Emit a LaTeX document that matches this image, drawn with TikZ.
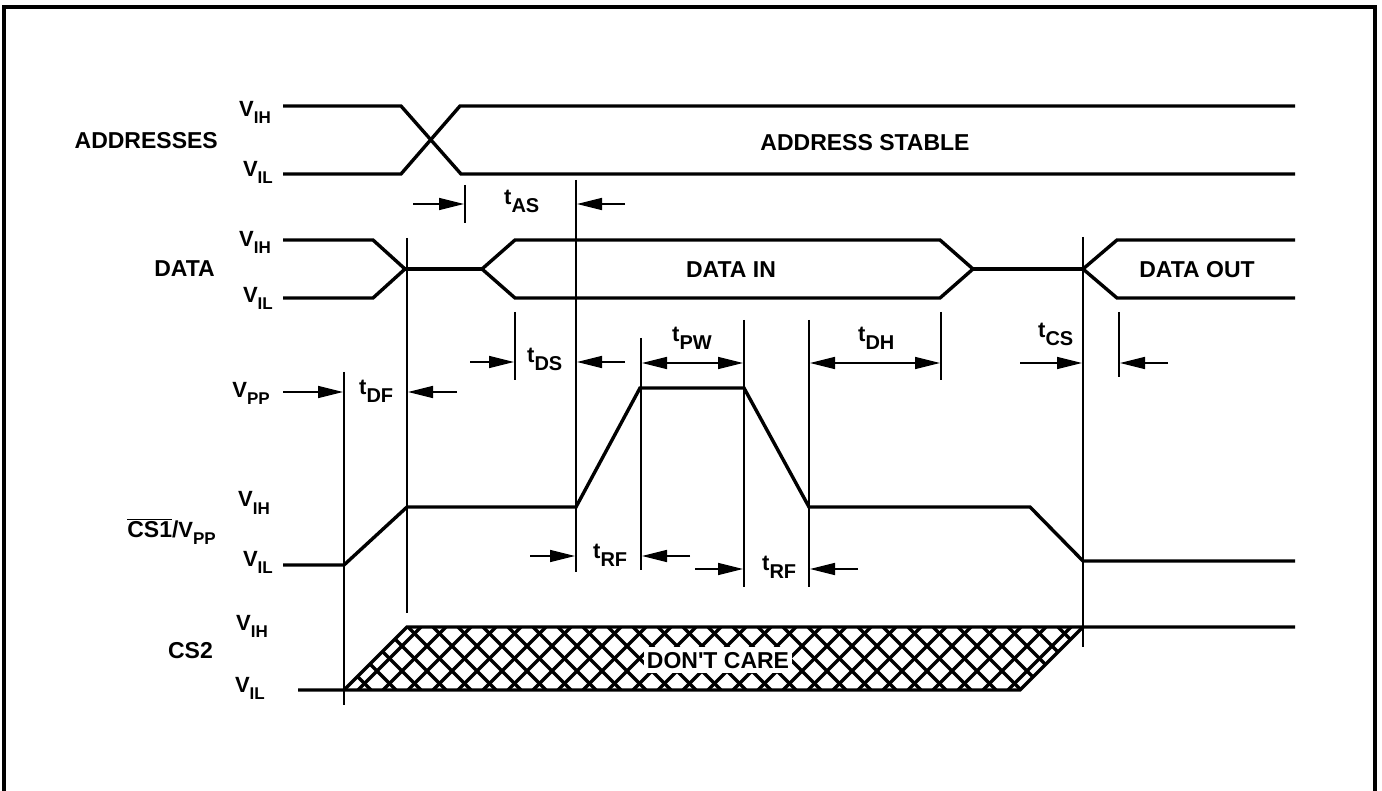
\documentclass[tikz,border=0pt]{standalone}
\usepackage{fontspec}
\setmainfont{Liberation Sans}
\usetikzlibrary{arrows.meta}
\newcommand{\lv}[2]{{\fontsize{22}{22}\selectfont #1}{\fontsize{17}{17}\selectfont\raisebox{-7pt}{#2}}}
\newcommand{\tsub}[1]{{\fontsize{22}{22}\selectfont t}{\fontsize{20}{20}\selectfont\raisebox{-8pt}{#1}}}
\begin{document}
\begin{tikzpicture}[x=1pt,y=-1pt,
  font=\bfseries\fontsize{23}{27}\selectfont,
  sig/.style={line width=3.4pt},
  guide/.style={line width=1.6pt},
  dimr/.style={line width=1.6pt,-{Triangle[length=25pt,width=12pt]}},
  dimd/.style={line width=1.6pt,{Triangle[length=25pt,width=12pt]}-{Triangle[length=25pt,width=12pt]}},
  lbl/.style={inner sep=0pt},
  hatch/.style={line width=3.3pt}]
\useasboundingbox (0,0) rectangle (1382,791);
% frame
\draw[line width=4pt] (4,800) -- (4,7) -- (1375,7) -- (1375,800);

% ---------- left labels ----------
\node[lbl,anchor=base east] (aih) at (271,117) {\lv{V}{IH}};
\node[lbl,anchor=base east] (ail) at (273,177) {\lv{V}{IL}};
\node[lbl,anchor=base east] (addr) at (218,149) {ADDRESSES};
\node[lbl,anchor=base east] (dih) at (271,247) {\lv{V}{IH}};
\node[lbl,anchor=base east] (dil) at (273,303) {\lv{V}{IL}};
\node[lbl,anchor=base east] (data) at (215,277) {DATA};
\node[lbl,anchor=base east] (vpp) at (270,398) {\lv{V}{PP}};
\node[lbl,anchor=base east] (cih) at (270,507) {\lv{V}{IH}};
\node[lbl,anchor=base east] (cs1) at (216,537) {$\overline{\mbox{CS1}}$/\lv{V}{PP}};
\node[lbl,anchor=base east] (cil) at (273,566) {\lv{V}{IL}};
\node[lbl,anchor=base east] (sih) at (268,630) {\lv{V}{IH}};
\node[lbl,anchor=base east] (cs2) at (213,658) {CS2};
\node[lbl,anchor=base east] (sil) at (265,692) {\lv{V}{IL}};

% ---------- ADDRESSES ----------
\draw[sig] (283,106) -- (401,106) -- (461,174) -- (1295,174);
\draw[sig] (283,174) -- (401,174) -- (460,106) -- (1295,106);
\node[lbl,anchor=base] (astab) at (865,151) {ADDRESS STABLE};

% ---------- DATA ----------
\draw[sig] (283,240) -- (373,240) -- (405,269) -- (373,298) -- (283,298);
\draw[sig] (405,269) -- (482,269);
\draw[sig] (515,240) -- (940,240) -- (973,269) -- (940,298) -- (515,298) -- (482,269) -- cycle;
\draw[sig] (973,269) -- (1083,269);
\draw[sig] (1295,240) -- (1117,240) -- (1083,269) -- (1117,298) -- (1295,298);
\node[lbl,anchor=base] (din) at (731,278) {DATA IN};
\node[lbl,anchor=base] (dout) at (1197,278) {DATA OUT};

% ---------- CS1/VPP ----------
\draw[sig] (283,565) -- (344,565) -- (407,507) -- (576,507) -- (640,388) -- (744,388)
  -- (809,507) -- (1030,507) -- (1083,561) -- (1295,561);

% ---------- CS2 ----------
\begin{scope}
  \clip (344,690) -- (407,627) -- (1083,627) -- (1020,690) -- cycle;
  \foreach \a in {258,283,...,1108} {
    \draw[hatch] (\a,690) -- (\a+63,627);
    \draw[hatch] (\a,627) -- (\a+63,690);
  }
\end{scope}
\draw[sig] (298,690) -- (1020,690) -- (1083,627);
\draw[sig] (344,690) -- (407,627) -- (1295,627);
\node[lbl,fill=white,inner xsep=3pt,inner ysep=5pt,anchor=base] (dc) at (718,668) {DON\textquotesingle T CARE};

% ---------- guide lines ----------
\coordinate (g344t) at (344,372);  \coordinate (g344b) at (344,705);
\coordinate (g407t) at (407,238);  \coordinate (g407b) at (407,613);
\coordinate (g465t) at (465,185);  \coordinate (g465b) at (465,223);
\coordinate (g576t) at (576,180);  \coordinate (g576b) at (576,572);
\coordinate (g515t) at (515,312);  \coordinate (g515b) at (515,380);
\coordinate (g641t) at (641,338);  \coordinate (g641b) at (641,570);
\coordinate (g744t) at (744,320);  \coordinate (g744b) at (744,587);
\coordinate (g809t) at (809,320);  \coordinate (g809b) at (809,587);
\coordinate (g941t) at (941,312);  \coordinate (g941b) at (941,380);
\coordinate (g1083t) at (1083,237); \coordinate (g1083b) at (1083,647);
\coordinate (g1119t) at (1119,312); \coordinate (g1119b) at (1119,377);
\foreach \g in {344,407,465,576,515,641,744,809,941,1083,1119}
  \draw[guide] (g\g t) -- (g\g b);

% ---------- dimension arrows ----------
% tAS
\coordinate (as1) at (413,204); \coordinate (as2) at (464,204);
\coordinate (as3) at (625,204); \coordinate (as4) at (577,204);
\draw[dimr] (as1) -- (as2);
\draw[dimr] (as3) -- (as4);
\node[lbl,anchor=base west] (tas) at (504,205) {\tsub{AS}};
% tDS
\coordinate (ds1) at (470,362); \coordinate (ds2) at (514,362);
\coordinate (ds3) at (625,362); \coordinate (ds4) at (577,362);
\draw[dimr] (ds1) -- (ds2);
\draw[dimr] (ds3) -- (ds4);
\node[lbl,anchor=base west] (tds) at (527,363) {\tsub{DS}};
% tDF
\coordinate (df1) at (283,392); \coordinate (df2) at (343,392);
\coordinate (df3) at (457,392); \coordinate (df4) at (408,392);
\draw[dimr] (df1) -- (df2);
\draw[dimr] (df3) -- (df4);
\node[lbl,anchor=base west] (tdf) at (359,395) {\tsub{DF}};
% tPW
\coordinate (pw1) at (642,363); \coordinate (pw2) at (743,363);
\draw[dimd] (pw1) -- (pw2);
\node[lbl,anchor=base west] (tpw) at (672,342) {\tsub{PW}};
% tDH
\coordinate (dh1) at (810,363); \coordinate (dh2) at (940,363);
\draw[dimd] (dh1) -- (dh2);
\node[lbl,anchor=base west] (tdh) at (858,342) {\tsub{DH}};
% tCS
\coordinate (cs1a) at (1020,363); \coordinate (cs1b) at (1082,363);
\coordinate (cs1c) at (1168,363); \coordinate (cs1d) at (1120,363);
\draw[dimr] (cs1a) -- (cs1b);
\draw[dimr] (cs1c) -- (cs1d);
\node[lbl,anchor=base west] (tcs) at (1038,338) {\tsub{CS}};
% tRF (rise)
\coordinate (rf1) at (530,556); \coordinate (rf2) at (575,556);
\coordinate (rf3) at (690,556); \coordinate (rf4) at (642,556);
\draw[dimr] (rf1) -- (rf2);
\draw[dimr] (rf3) -- (rf4);
\node[lbl,anchor=base west] (trf1) at (593,558) {\tsub{RF}};
% tRF (fall)
\coordinate (rf5) at (695,569); \coordinate (rf6) at (743,569);
\coordinate (rf7) at (858,569); \coordinate (rf8) at (810,569);
\draw[dimr] (rf5) -- (rf6);
\draw[dimr] (rf7) -- (rf8);
\node[lbl,anchor=base west] (trf2) at (762,570) {\tsub{RF}};
\end{tikzpicture}
\end{document}
